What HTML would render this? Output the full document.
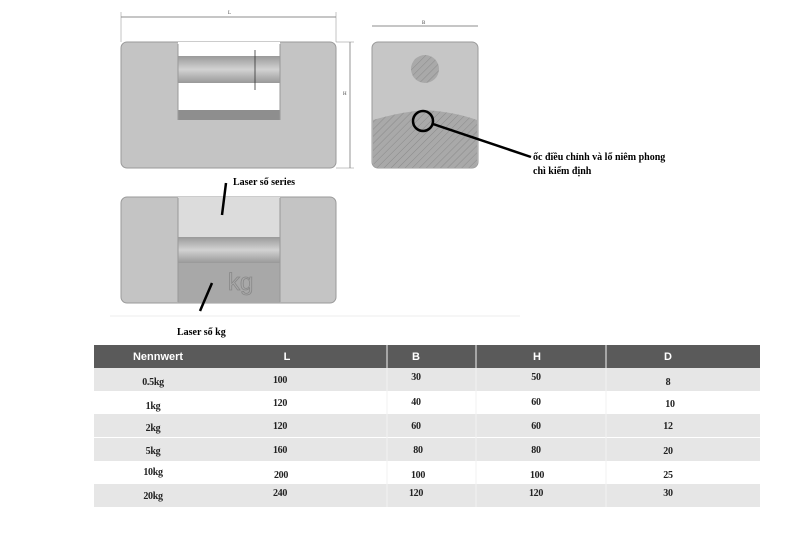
<!DOCTYPE html>
<html><head><meta charset="utf-8"><style>
html,body{margin:0;padding:0;background:#fff;width:800px;height:541px;overflow:hidden}
svg{display:block}
</style></head><body>
<svg width="800" height="541" viewBox="0 0 800 541" xmlns="http://www.w3.org/2000/svg" font-family="Liberation Serif, serif">
<defs>
<pattern id="h" width="5" height="5" patternUnits="userSpaceOnUse" patternTransform="rotate(45)">
<rect width="5" height="5" fill="#a9a9a9"/><line x1="0" y1="0" x2="0" y2="5" stroke="#8a8a8a" stroke-width="1"/></pattern>
<linearGradient id="bar" x1="0" y1="0" x2="0" y2="1"><stop offset="0" stop-color="#9a9a9a"/><stop offset="0.5" stop-color="#d2d2d2"/><stop offset="1" stop-color="#999"/></linearGradient>
</defs>
<!-- top weight -->
<line x1="121" y1="17" x2="336" y2="17" stroke="#666" stroke-width="0.7"/>
<line x1="121" y1="12" x2="121" y2="42" stroke="#888" stroke-width="0.5"/>
<line x1="336" y1="12" x2="336" y2="42" stroke="#888" stroke-width="0.5"/>
<text x="228" y="14" font-size="5" fill="#444">L</text>
<line x1="350" y1="42" x2="350" y2="168" stroke="#666" stroke-width="0.7"/>
<line x1="336" y1="42" x2="354" y2="42" stroke="#888" stroke-width="0.5"/>
<line x1="336" y1="168" x2="354" y2="168" stroke="#888" stroke-width="0.5"/>
<text x="343" y="95" font-size="5" fill="#444">H</text>
<rect x="121" y="42" width="215" height="126" rx="6" fill="#c4c4c4" stroke="#9a9a9a"/>
<rect x="178" y="56" width="102" height="27" fill="url(#bar)"/>
<rect x="178" y="83" width="102" height="27" fill="#fff"/>
<rect x="178" y="110" width="102" height="10" fill="#8e8e8e"/>
<rect x="178" y="42" width="102" height="14" fill="#fff"/>
<g stroke="#999" stroke-width="1"><line x1="178" y1="44" x2="178" y2="120"/><line x1="280" y1="44" x2="280" y2="120"/></g>
<line x1="255" y1="50" x2="255" y2="90" stroke="#333" stroke-width="0.8"/>
<!-- side view -->
<line x1="372" y1="26" x2="478" y2="26" stroke="#666" stroke-width="0.7"/>
<text x="422" y="24" font-size="5" fill="#444">B</text>
<rect x="372" y="42" width="106" height="126" rx="6" fill="#c6c6c6" stroke="#9a9a9a"/>
<circle cx="425" cy="69" r="14" fill="url(#h)"/>
<path d="M373 120 Q400 112 425 110 Q455 112 477 120 L477 162 Q477 168 471 168 L379 168 Q373 168 373 162Z" fill="url(#h)"/>
<circle cx="423" cy="121" r="10" fill="none" stroke="#000" stroke-width="2.5"/>
<line x1="433" y1="124" x2="531" y2="157" stroke="#000" stroke-width="2.5"/>
<text x="533" y="160" font-size="10" font-weight="bold">ốc điều chỉnh và lổ niêm phong</text>
<text x="533" y="174" font-size="10" font-weight="bold">chì kiểm định</text>
<!-- bottom weight -->
<rect x="121" y="197" width="215" height="106" rx="6" fill="#c4c4c4" stroke="#9a9a9a"/>
<rect x="178" y="197" width="102" height="40" fill="#dcdcdc"/>
<rect x="178" y="237" width="102" height="26" fill="url(#bar)"/>
<rect x="178" y="263" width="102" height="40" fill="#a8a8a8"/>
<g stroke="#999" stroke-width="1"><line x1="178" y1="198" x2="178" y2="302"/><line x1="280" y1="198" x2="280" y2="302"/></g>
<text x="228" y="290" font-size="24" font-family="Liberation Sans, sans-serif" fill="none" stroke="#888" stroke-width="0.8">kg</text>
<line x1="226" y1="183" x2="222" y2="215" stroke="#000" stroke-width="2.5"/>
<line x1="212" y1="283" x2="200" y2="311" stroke="#000" stroke-width="2.5"/>
<text x="233" y="185" font-size="10" font-weight="bold">Laser số series</text>
<text x="177" y="335" font-size="10" font-weight="bold">Laser số kg</text>
<line x1="110" y1="316" x2="520" y2="316" stroke="#eee"/>
<!-- table -->
<rect x="94" y="345" width="666" height="23" fill="#5a5a5a"/>
<rect x="94" y="368" width="666" height="23" fill="#e6e6e6"/>
<rect x="94" y="414" width="666" height="23" fill="#e6e6e6"/>
<rect x="94" y="438" width="666" height="23" fill="#e6e6e6"/>
<rect x="94" y="484" width="666" height="23" fill="#e6e6e6"/>
<g stroke="#f2f2f2" stroke-width="1"><line x1="387" y1="345" x2="387" y2="507"/><line x1="476" y1="345" x2="476" y2="507"/><line x1="606" y1="345" x2="606" y2="507"/></g>
<g font-family="Liberation Sans, sans-serif" font-weight="bold" font-size="11" fill="#fff" text-anchor="middle">
<text x="158" y="360">Nennwert</text><text x="287" y="360">L</text><text x="416" y="360">B</text><text x="537" y="360">H</text><text x="668" y="360">D</text></g>
<g font-size="10" font-weight="bold" fill="#222" text-anchor="middle" font-family="Liberation Serif, serif" letter-spacing="-0.3">
<text x="153" y="385">0.5kg</text><text x="280" y="383">100</text><text x="416" y="380">30</text><text x="536" y="380">50</text><text x="668" y="385">8</text>
<text x="153" y="409">1kg</text><text x="280" y="406">120</text><text x="416" y="405">40</text><text x="536" y="405">60</text><text x="670" y="407">10</text>
<text x="153" y="431">2kg</text><text x="280" y="429">120</text><text x="416" y="429">60</text><text x="536" y="429">60</text><text x="668" y="429">12</text>
<text x="153" y="454">5kg</text><text x="280" y="453">160</text><text x="418" y="453">80</text><text x="536" y="453">80</text><text x="668" y="454">20</text>
<text x="153" y="475">10kg</text><text x="281" y="478">200</text><text x="418" y="478">100</text><text x="537" y="478">100</text><text x="668" y="478">25</text>
<text x="153" y="499">20kg</text><text x="280" y="496">240</text><text x="416" y="496">120</text><text x="536" y="496">120</text><text x="668" y="496">30</text>
</g>
</svg>
</body></html>
